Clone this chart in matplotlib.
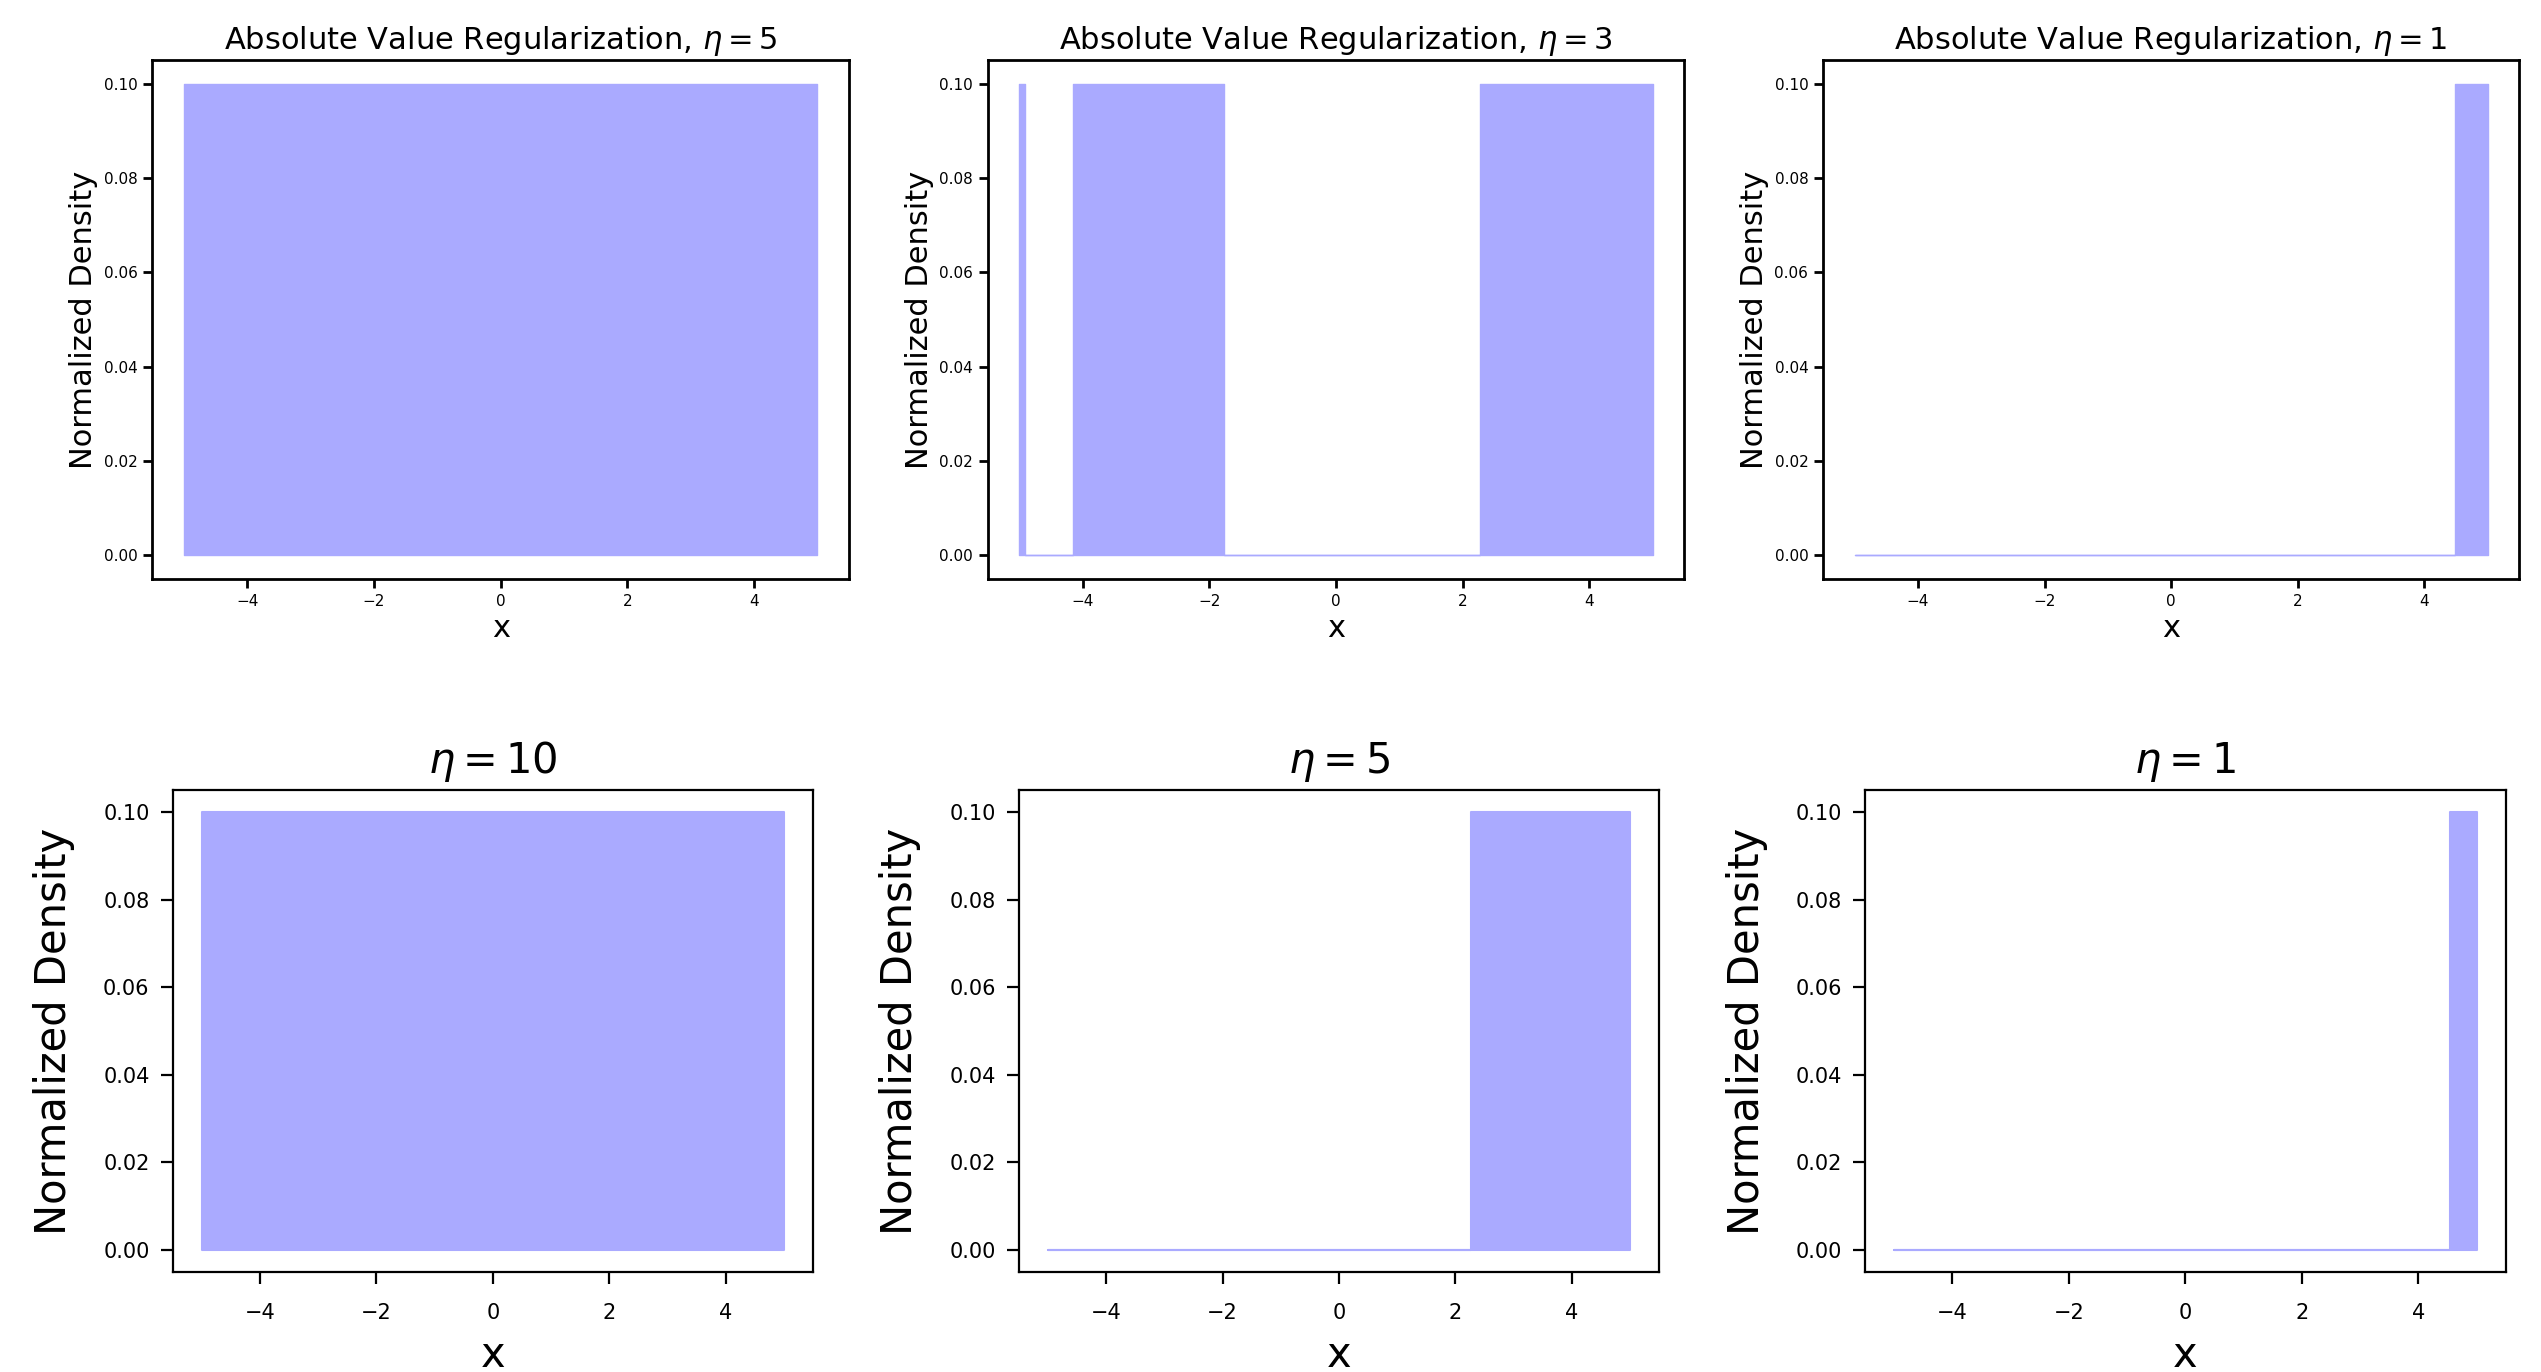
import matplotlib
matplotlib.use('Agg')
import matplotlib.pyplot as plt

# top row: absolute value regularization
top_titles = ['Absolute Value Regularization, $\\eta=5$',
              'Absolute Value Regularization, $\\eta=3$',
              'Absolute Value Regularization, $\\eta=1$']
abs_eta5_x = [-5.0, 5.0]
abs_eta5_y = [0.1, 0.1]
abs_eta3_x = [-5.0, -4.91, -4.91, -4.16, -4.16, -1.76, -1.76, 2.28, 2.28, 5.0]
abs_eta3_y = [0.1, 0.1, 0.0, 0.0, 0.1, 0.1, 0.0, 0.0, 0.1, 0.1]
abs_eta1_x = [-5.0, 4.48, 4.48, 5.0]
abs_eta1_y = [0.0, 0.0, 0.1, 0.1]

# bottom row
bottom_titles = ['$\\eta=10$', '$\\eta=5$', '$\\eta=1$']
eta10_x = [-5.0, 5.0]
eta10_y = [0.1, 0.1]
eta5_x = [-5.0, 2.27, 2.27, 5.0]
eta5_y = [0.0, 0.0, 0.1, 0.1]
eta1_x = [-5.0, 4.55, 4.55, 5.0]
eta1_y = [0.0, 0.0, 0.1, 0.1]

top_data = [(abs_eta5_x, abs_eta5_y), (abs_eta3_x, abs_eta3_y), (abs_eta1_x, abs_eta1_y)]
bottom_data = [(eta10_x, eta10_y), (eta5_x, eta5_y), (eta1_x, eta1_y)]

fill_color = '#aaaaff'  # blue at alpha 0.33 on white

fig = plt.figure(figsize=(25.41, 13.72), dpi=100)

top_lefts = [0.0600, 0.3887, 0.7174]
bottom_lefts = [0.0679, 0.4009, 0.7340]


def draw(ax, x, y, title, big, small, lw, ticklen, xpad, ypad, fill_lw,
         title_pad, xlabelpad, ylabelpad):
    ax.fill_between(x, y, facecolor=fill_color, edgecolor=fill_color, lw=fill_lw)
    ax.set_title(title, fontsize=big, pad=title_pad)
    ax.set_xlabel('x', fontsize=big, labelpad=xlabelpad)
    ax.set_ylabel('Normalized Density', fontsize=big, labelpad=ylabelpad)
    ax.set_xticks([-4, -2, 0, 2, 4])
    ax.set_yticks([0.0, 0.02, 0.04, 0.06, 0.08, 0.10])
    ax.tick_params(labelsize=small, width=lw, length=ticklen)
    ax.tick_params(axis='x', pad=xpad)
    ax.tick_params(axis='y', pad=ypad)
    for s in ax.spines.values():
        s.set_linewidth(lw)


for left, (x, y), t in zip(top_lefts, top_data, top_titles):
    ax = fig.add_axes([left, 0.5780, 0.2741, 0.3783])
    draw(ax, x, y, t, 22, 11, 2.0, 6.5, 4, 4, 1.0, 8, 4, 4)

for left, (x, y), t in zip(bottom_lefts, bottom_data, bottom_titles):
    ax = fig.add_axes([left, 0.0729, 0.2521, 0.3513])
    draw(ax, x, y, t, 30, 15, 1.6, 8.5, 14, 8, 1.5, 12, 8, 20)

fig.savefig('out.png', dpi=100)
